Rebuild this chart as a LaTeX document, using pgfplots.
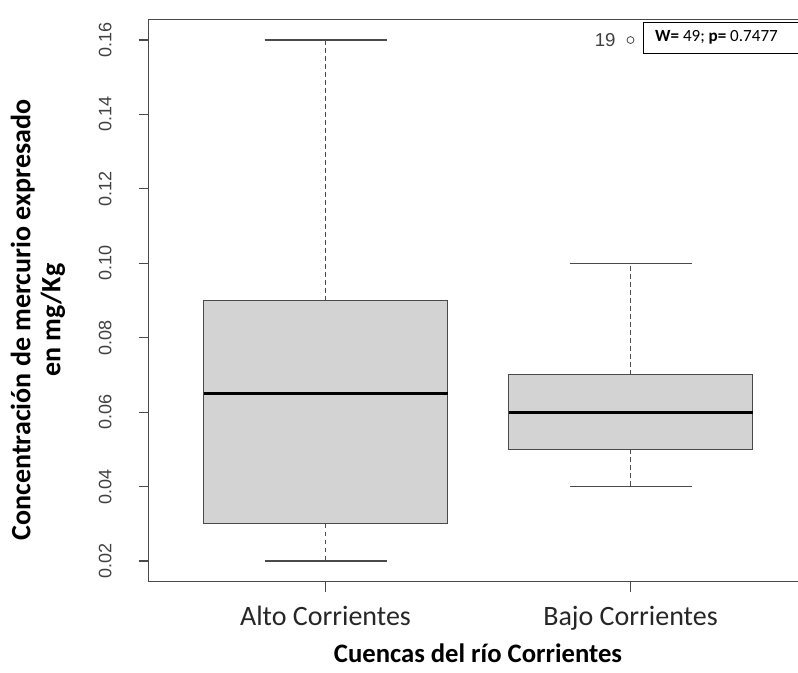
\documentclass[border=0pt]{standalone}
\usepackage{fontspec}
\setmainfont{Carlito}
\newfontfamily\arialfont{Liberation Sans}
\usepackage{pgfplots}
\pgfplotsset{compat=1.18}
\definecolor{boxgray}{HTML}{D3D3D3}
\definecolor{framegray}{HTML}{4A4A4A}
\begin{document}
\begin{tikzpicture}
\begin{axis}[
  scale only axis, width=494.1pt, height=422pt,
  xmin=0.42, xmax=2.58, ymin=0.0144, ymax=0.1656,
  xtick={1,2}, xticklabels={Alto Corrientes, Bajo Corrientes},
  ytick={0.02,0.04,0.06,0.08,0.10,0.12,0.14,0.16},
  yticklabels={0.02,0.04,0.06,0.08,0.10,0.12,0.14,0.16},
  tick align=outside, major tick length=7.5pt, tick pos=left,
  axis line style={framegray, line width=0.8pt},
  every tick/.style={framegray, line width=0.8pt},
  xticklabel style={font=\fontsize{21}{24}\selectfont, text=black!85, anchor=base, inner sep=0pt, yshift=-25pt},
  yticklabel style={font=\arialfont\fontsize{13.5}{15}\selectfont, text=black!75, rotate=90, anchor=south, inner sep=0pt, yshift=20pt},
  wh/.style={framegray, line width=0.85pt, dash pattern=on 3.5pt off 2.5pt},
  cap/.style={framegray, line width=0.8pt},
  bx/.style={fill=boxgray, draw=framegray, line width=0.8pt},
  med/.style={black, line width=2.4pt, line cap=butt},
]
% Alto Corrientes
\addplot[wh] coordinates {(1,0.09) (1,0.16)};
\addplot[wh] coordinates {(1,0.03) (1,0.02)};
\addplot[cap] coordinates {(0.8,0.16) (1.2,0.16)};
\addplot[cap] coordinates {(0.8,0.02) (1.2,0.02)};
\addplot[bx] coordinates {(0.6,0.03) (1.4,0.03) (1.4,0.09) (0.6,0.09)} -- cycle;
\addplot[med] coordinates {(0.6,0.065) (1.4,0.065)};
% Bajo Corrientes
\addplot[wh] coordinates {(2,0.07) (2,0.10)};
\addplot[wh] coordinates {(2,0.05) (2,0.04)};
\addplot[cap] coordinates {(1.8,0.10) (2.2,0.10)};
\addplot[cap] coordinates {(1.8,0.04) (2.2,0.04)};
\addplot[bx] coordinates {(1.6,0.05) (2.4,0.05) (2.4,0.07) (1.6,0.07)} -- cycle;
\addplot[med] coordinates {(1.6,0.06) (2.4,0.06)};
% outlier
\addplot[only marks, mark=o, mark size=2.6pt, framegray, line width=0.6pt] coordinates {(2,0.16)};
\node[anchor=east, font=\arialfont\fontsize{14}{16}\selectfont, text=black!75, inner sep=0pt] at (axis cs:2,0.16) [xshift=-11pt] {19};
\draw[black, line width=0.7pt, fill=white] (axis cs:2.041,0.16484) rectangle (axis cs:2.7,0.1565);
\node[anchor=west, font=\fontsize{12.8}{14}\selectfont, inner sep=0pt] at (axis cs:2.080,0.16067) {\textbf{W=} 49; \textbf{p=} 0.7477};
\coordinate (SW) at (rel axis cs:0,0);
\coordinate (NE) at (rel axis cs:1,1);
\coordinate (YL) at (rel axis cs:0,0.4654);
\coordinate (XL) at (rel axis cs:0.5,0);
\end{axis}
\node[rotate=90, align=center, font=\bfseries\fontsize{21}{22.5}\selectfont, inner sep=0pt] at ([xshift=-83pt]YL) {Concentración de mercurio expresado\\en mg/Kg};
\node[anchor=base, font=\bfseries\fontsize{20}{24}\selectfont, inner sep=0pt] at ([yshift=-60.75pt]XL) {Cuencas del río Corrientes};
\pgfresetboundingbox
\useasboundingbox ([shift={(-111.45pt,-68.3pt)}]SW) rectangle ([shift={(-7.05pt,14.4pt)}]NE);
\end{tikzpicture}
\end{document}
